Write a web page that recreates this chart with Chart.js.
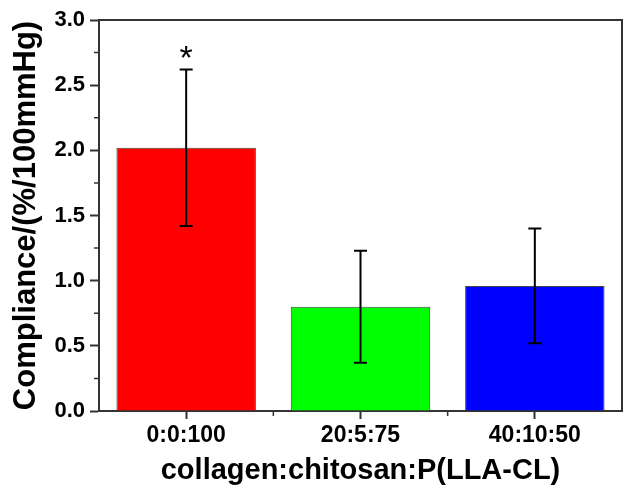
<!DOCTYPE html>
<html>
<head>
<meta charset="utf-8">
<script src="https://cdn.jsdelivr.net/npm/chart.js@4"></script>
<style>
  body { margin: 0; background: #fff; }
  #wrap { width: 624px; height: 494px; }
</style>
</head>
<body>
<div id="wrap"><canvas id="barChart" width="624" height="494"></canvas></div>
<script>
// data
let groups = ["0:0:100", "20:5:75", "40:10:50"]
let compliance = [2.02, 0.80, 0.96]
let stdDev = [0.60, 0.43, 0.44]
let marks = ["*", "", ""]
let barColors = ["#ff0000", "#00ff00", "#0000ff"]

let axisColor = "#333"
let fontName = "'Liberation Sans', Arial, sans-serif"

// error bars, significance star, minor ticks and the box round the plot
let extras = {
    id: "extras",
    afterDatasetsDraw(chart) {
        let ctx = chart.ctx
        let x = chart.scales.x
        let y = chart.scales.y
        let area = chart.chartArea
        ctx.save()

        ctx.strokeStyle = "#000"
        ctx.lineWidth = 2
        compliance.forEach((v, i) => {
            let px = x.getPixelForValue(i)
            let top = y.getPixelForValue(v + stdDev[i])
            let bot = y.getPixelForValue(v - stdDev[i])
            ctx.beginPath()
            ctx.moveTo(px, top)
            ctx.lineTo(px, bot)
            ctx.moveTo(px - 6.5, top)
            ctx.lineTo(px + 6.5, top)
            ctx.moveTo(px - 6.5, bot)
            ctx.lineTo(px + 6.5, bot)
            ctx.stroke()

            if (marks[i]) {
                ctx.fillStyle = "#000"
                ctx.font = "34px " + fontName
                ctx.textAlign = "center"
                ctx.textBaseline = "alphabetic"
                ctx.fillText(marks[i], px, top - 1)
            }
        })

        // frame (top and right)
        ctx.strokeStyle = axisColor
        ctx.lineWidth = 2
        ctx.beginPath()
        ctx.moveTo(area.left, area.top)
        ctx.lineTo(area.right, area.top)
        ctx.lineTo(area.right, area.bottom)
        ctx.stroke()

        // minor ticks on y
        ctx.lineWidth = 1.5
        ctx.beginPath()
        for (let v = 0.25; v < 3; v += 0.5) {
            let py = y.getPixelForValue(v)
            ctx.moveTo(area.left - 5, py)
            ctx.lineTo(area.left, py)
        }
        // minor ticks on x, between the groups
        for (let i = 0; i < groups.length - 1; i++) {
            let px = (x.getPixelForValue(i) + x.getPixelForValue(i + 1)) / 2
            ctx.moveTo(px, area.bottom)
            ctx.lineTo(px, area.bottom + 5)
        }
        ctx.stroke()
        ctx.restore()
    }
}

let CHART = document.getElementById("barChart")
let barChart = new Chart(CHART, {
    type: "bar",
    data: {
        labels: groups,
        datasets: [
            {
                label: "Compliance",
                data: compliance,
                backgroundColor: barColors,
                borderColor: "#444",
                borderWidth: 1,
                barPercentage: 0.8,
                categoryPercentage: 1.0
            }
        ]
    },
    options: {
        responsive: false,
        animation: false,
        devicePixelRatio: 1,
        layout: { padding: { top: 20, right: 2, left: 0, bottom: 0 } },
        plugins: {
            legend: { display: false },
            tooltip: { enabled: false }
        },
        scales: {
            x: {
                offset: true,
                grid: {
                    offset: false,
                    drawOnChartArea: false,
                    drawTicks: true,
                    tickLength: 8,
                    tickWidth: 2,
                    tickColor: axisColor
                },
                border: { color: axisColor, width: 2 },
                ticks: {
                    color: "#000",
                    padding: 3,
                    font: { family: fontName, size: 23, weight: "bold" }
                },
                title: {
                    display: true,
                    text: "collagen:chitosan:P(LLA-CL)",
                    color: "#000",
                    font: { family: fontName, size: 29, weight: "bold" },
                    padding: { top: 4, bottom: 6 }
                },
                afterFit(scale) { scale.height = 83 }
            },
            y: {
                min: 0,
                max: 3,
                grid: {
                    drawOnChartArea: false,
                    drawTicks: true,
                    tickLength: 9,
                    tickWidth: 2,
                    tickColor: axisColor
                },
                border: { color: axisColor, width: 2 },
                ticks: {
                    stepSize: 0.5,
                    color: "#000",
                    padding: 5,
                    font: { family: fontName, size: 22, weight: "bold" },
                    callback: v => v.toFixed(1)
                },
                title: {
                    display: true,
                    text: "Compliance/(%/100mmHg)",
                    color: "#000",
                    font: { family: fontName, size: 31, weight: "bold" },
                    padding: { top: 8, bottom: 4 }
                },
                afterFit(scale) { scale.width = 99 }
            }
        }
    },
    plugins: [extras]
})
</script>
</body>
</html>
